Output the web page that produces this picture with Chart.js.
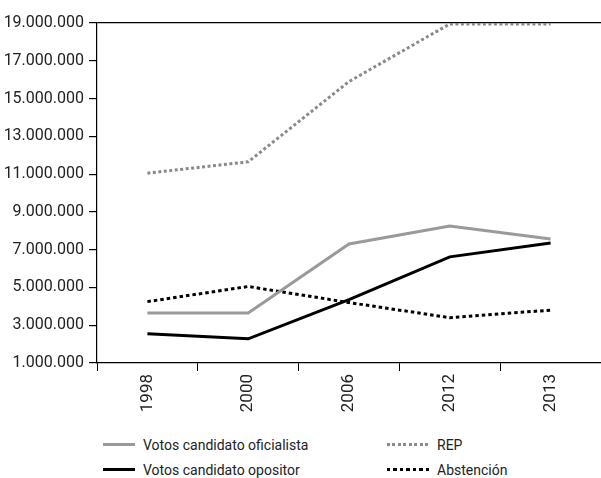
<!DOCTYPE html>
<html lang="es">
<head>
    <meta charset="UTF-8">
    <title>Votos y abstención</title>
    <script src="https://cdn.jsdelivr.net/npm/chart.js"></script>
    <style>
        body {
            margin: 0;
            background: #ffffff;
            font-family: Roboto, "DejaVu Sans Condensed", sans-serif;
            color: #222222;
        }
        .wrap {
            position: relative;
            width: 601px;
            height: 478px;
            overflow: hidden;
        }
        .chart-box {
            position: absolute;
            left: 0;
            top: 0;
            width: 601px;
            height: 420px;
        }
        #legend {
            position: absolute;
            left: 103px;
            top: 432px;
            display: grid;
            grid-template-columns: 284px 200px;
            grid-template-rows: 25px 25px;
            grid-auto-flow: column;
            font-size: 14px;
        }
        .item {
            display: flex;
            align-items: center;
        }
        .sample {
            height: 3px;
            margin-right: 8px;
        }
    </style>
</head>
<body>
<div class="wrap">
    <div class="chart-box"><canvas id="chart"></canvas></div>
    <div id="legend"></div>
</div>

<script>
    const years = ['1998', '2000', '2006', '2012', '2013'];
    const votosOficialista = [3650000, 3650000, 7300000, 8250000, 7570000];
    const votosOpositor = [2550000, 2280000, 4350000, 6620000, 7350000];
    const rep = [11050000, 11650000, 15900000, 18950000, 18950000];
    const abstencion = [4250000, 5050000, 4200000, 3400000, 3800000];
    const yTicks = [1000000, 19000000, 2000000]; // min, max, step

    Chart.defaults.font.family = 'Roboto, "DejaVu Sans Condensed", sans-serif';
    Chart.defaults.color = '#222222';

    function fmt(v) {
        return String(v).replace(/\B(?=(\d{3})+(?!\d))/g, '.');
    }

    const chart = new Chart(document.getElementById('chart'), {
        type: 'line',
        data: {
            labels: years,
            datasets: [
                { label: 'Votos candidato oficialista', data: votosOficialista, borderColor: '#9a9a9a', borderWidth: 3, legendW: 32 },
                { label: 'Votos candidato opositor', data: votosOpositor, borderColor: '#000000', borderWidth: 3, legendW: 32 },
                { label: 'REP', data: rep, borderColor: '#8a8a8a', borderWidth: 3, borderDash: [3, 2.5], legendW: 42 },
                { label: 'Abstención', data: abstencion, borderColor: '#000000', borderWidth: 3, borderDash: [3.5, 3], legendW: 42 }
            ]
        },
        options: {
            responsive: true,
            maintainAspectRatio: false,
            animation: false,
            layout: { padding: { top: 23, right: 0, left: 0, bottom: 0 } },
            elements: {
                point: { radius: 0 },
                line: { tension: 0, borderCapStyle: 'butt', borderJoinStyle: 'miter' }
            },
            plugins: {
                legend: { display: false },
                tooltip: { enabled: false }
            },
            scales: {
                x: {
                    offset: true,
                    afterFit: s => { s.height = 57; },
                    grid: {
                        offset: true,
                        drawOnChartArea: false,
                        color: '#000000',
                        tickLength: 8,
                        lineWidth: 1
                    },
                    border: { color: '#000000', width: 1.2 },
                    ticks: {
                        minRotation: 90,
                        maxRotation: 90,
                        padding: 3,
                        font: { size: 17 },
                        color: '#222222'
                    }
                },
                y: {
                    min: yTicks[0],
                    max: yTicks[1],
                    afterFit: s => { s.width = 97; },
                    grid: {
                        drawOnChartArea: true,
                        color: ctx => ctx.tick && ctx.tick.value === yTicks[1] ? '#000000' : 'rgba(0,0,0,0)',
                        tickColor: '#000000',
                        tickLength: 8,
                        lineWidth: 1.2
                    },
                    border: { color: '#000000', width: 1.2 },
                    ticks: {
                        stepSize: yTicks[2],
                        padding: 5,
                        font: { size: 16 },
                        color: '#222222',
                        callback: v => fmt(v)
                    }
                }
            }
        }
    });

    // legend in two columns, built from the chart datasets
    const legend = document.getElementById('legend');
    chart.data.datasets.forEach(ds => {
        const item = document.createElement('div');
        item.className = 'item';
        const sample = document.createElement('span');
        sample.className = 'sample';
        sample.style.width = ds.legendW + 'px';
        if (ds.borderDash) {
            const on = ds.borderDash[0], off = ds.borderDash[1];
            sample.style.background = `repeating-linear-gradient(to right, ${ds.borderColor} 0 ${on}px, transparent ${on}px ${on + off}px)`;
        } else {
            sample.style.background = ds.borderColor;
        }
        const text = document.createElement('span');
        text.textContent = ds.label;
        item.appendChild(sample);
        item.appendChild(text);
        legend.appendChild(item);
    });
</script>
</body>
</html>
